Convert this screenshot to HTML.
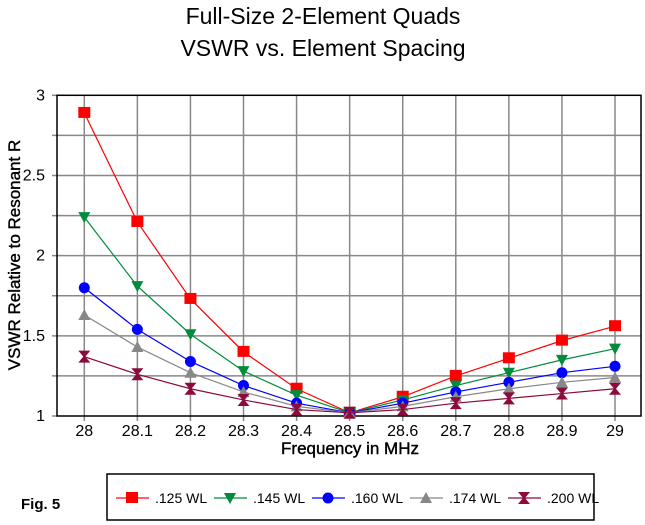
<!DOCTYPE html>
<html><head><meta charset="utf-8"><style>
html,body{margin:0;padding:0;background:#fff;}
svg{display:block;font-family:"Liberation Sans",Arial,sans-serif;}
</style></head><body>
<svg width="645" height="525" viewBox="0 0 645 525" xmlns="http://www.w3.org/2000/svg">
<rect width="645" height="525" fill="#fff"/>
<text x="323" y="24" font-size="23" text-anchor="middle">Full-Size 2-Element Quads</text>
<text x="323" y="56" font-size="23" text-anchor="middle">VSWR vs. Element Spacing</text>
<g id="grid" stroke="#888" stroke-width="1.5"></g>
<rect x="57" y="95.3" width="584" height="320.7" fill="none" stroke="#000" stroke-width="1.5"/>
<g id="ylab" font-size="16" text-anchor="end"></g>
<g id="xlab" font-size="16" text-anchor="middle"></g>
<text x="350" y="454" font-size="17" text-anchor="middle" stroke="#000" stroke-width="0.4">Frequency in MHz</text>
<text transform="translate(20,255) rotate(-90)" font-size="17" text-anchor="middle" stroke="#000" stroke-width="0.4">VSWR Relative to Resonant R</text>
<g id="series"></g>
<text x="21" y="509" font-size="15" font-weight="bold">Fig. 5</text>
<rect x="107" y="474" width="487" height="46" fill="none" stroke="#000" stroke-width="1.5"/>
<g id="legend" font-size="14"></g>
</svg>
<script>
var NS="http://www.w3.org/2000/svg";
function el(p,t,a,txt){var e=document.createElementNS(NS,t);for(var k in a)e.setAttribute(k,a[k]);if(txt)e.textContent=txt;p.appendChild(e);return e;}
var x0=84.3,dx=53.07,y1=416,py=160.35;
function X(i){return x0+i*dx;}function Y(v){return y1-(v-1)*py;}
var g=document.getElementById('grid');
for(var i=0;i<=10;i++){el(g,'line',{x1:X(i),x2:X(i),y1:95.3,y2:421});}
for(var v=1.25;v<3;v+=0.25){el(g,'line',{x1:52,x2:641,y1:Y(v),y2:Y(v)});}
el(g,'line',{x1:52,x2:57,y1:Y(1),y2:Y(1)});el(g,'line',{x1:52,x2:57,y1:Y(3),y2:Y(3)});
var yl=document.getElementById('ylab');
[[1,'1'],[1.5,'1.5'],[2,'2'],[2.5,'2.5'],[3,'3']].forEach(function(a){el(yl,'text',{x:45,y:Y(a[0])+5},a[1]);});
var xl=document.getElementById('xlab');
['28','28.1','28.2','28.3','28.4','28.5','28.6','28.7','28.8','28.9','29'].forEach(function(t,i){el(xl,'text',{x:X(i),y:436},t);});
var S=[
['#ff0000','sq',[2.89,2.21,1.73,1.40,1.17,1.02,1.12,1.25,1.36,1.47,1.56],'.125 WL'],
['#008c3c','td',[2.24,1.81,1.51,1.28,1.13,1.02,1.10,1.19,1.27,1.35,1.42],'.145 WL'],
['#0000ff','ci',[1.80,1.54,1.34,1.19,1.08,1.02,1.08,1.15,1.21,1.27,1.31],'.160 WL'],
['#888888','tu',[1.63,1.43,1.27,1.15,1.06,1.02,1.06,1.12,1.17,1.21,1.24],'.174 WL'],
['#8c0a3c','hg',[1.37,1.26,1.17,1.10,1.04,1.02,1.04,1.08,1.11,1.14,1.17],'.200 WL']];
function mk(p,t,x,y,c){
 if(t=='sq')el(p,'rect',{x:x-6,y:y-6,width:12,height:11,fill:c});
 else if(t=='tu')el(p,'polygon',{points:(x-6)+','+(y+5)+' '+(x+6)+','+(y+5)+' '+x+','+(y-6),fill:c});
 else if(t=='td')el(p,'polygon',{points:(x-6)+','+(y-5)+' '+(x+6)+','+(y-5)+' '+x+','+(y+6),fill:c});
 else if(t=='ci')el(p,'circle',{cx:x,cy:y,r:5.5,fill:c});
 else el(p,'polygon',{points:(x-6)+','+(y-6)+' '+(x+6)+','+(y-6)+' '+(x+1)+','+y+' '+(x+6)+','+(y+6)+' '+(x-6)+','+(y+6)+' '+(x-1)+','+y,fill:c});
}
var sg=document.getElementById('series');
S.forEach(function(s){var pts=s[2].map(function(v,i){return X(i)+','+Y(v);}).join(' ');
 el(sg,'polyline',{points:pts,fill:'none',stroke:s[0],'stroke-width':1.2});
 s[2].forEach(function(v,i){mk(sg,s[1],X(i),Y(v),s[0]);});});
var lg=document.getElementById('legend');
S.forEach(function(s,i){var bx=116+i*98;
 el(lg,'line',{x1:bx,x2:bx+33,y1:498,y2:498,stroke:s[0],'stroke-width':1.2});
 mk(lg,s[1],bx+16,498,s[0]);
 el(lg,'text',{x:bx+39,y:503},s[3]);});
</script>
</body></html>
